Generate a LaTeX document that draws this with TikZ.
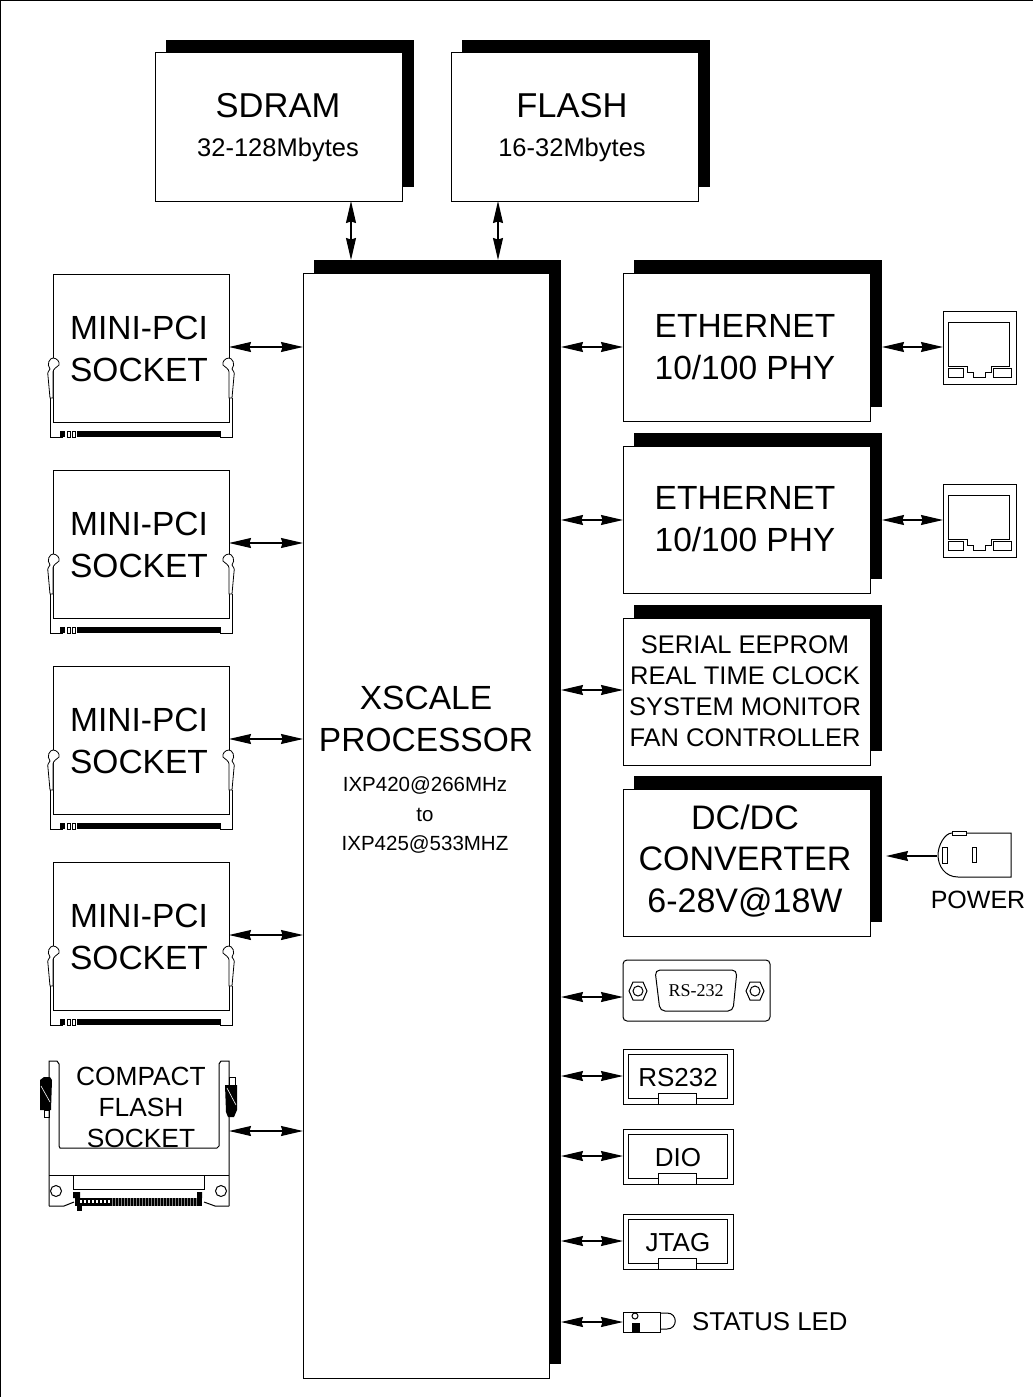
\documentclass[tikz,border=0pt]{standalone}
\usepackage{fontspec}
\setmainfont{Liberation Sans}
\newfontfamily\serifdb{Liberation Serif}
\usetikzlibrary{arrows.meta,positioning}
\tikzset{
  x=1pt,y=-1pt,
  ln/.style={draw=black,line width=1pt},
  thinln/.style={draw=black,line width=0.8pt},
  lbl/.style={align=center,inner sep=0pt,text=black},
  blockbox/.style={draw=black,line width=1pt,fill=white,anchor=north west,inner sep=0pt,outer sep=0pt},
  dbl/.style={line width=1.2pt,{Stealth[length=22pt,width=10pt,inset=1.5pt]}-{Stealth[length=22pt,width=10pt,inset=1.5pt]}},
  sgl/.style={line width=1.2pt,-{Stealth[length=22pt,width=10pt,inset=1.5pt]}},
}
% drop-shadow block: #1 name, #2 left, #3 top, #4 right, #5 bottom
\newcommand{\shadowblock}[5]{%
  \fill[black] (#2+11,#3-13) rectangle (#4+12,#5-14);
  \pgfmathsetmacro{\bw}{#4-#2}\pgfmathsetmacro{\bh}{#5-#3}
  \node[blockbox,minimum width=\bw pt,minimum height=\bh pt] (#1) at (#2,#3) {};
}
\newcommand{\minipci}[2]{% #1 name, #2 top y
  \begin{scope}[yshift=-#2pt]
  \node[blockbox,minimum width=176pt,minimum height=148pt] (#1) at (53,0) {};
  % left latch
  \draw[thinln,fill=white] (50,124) -- (48,102) .. controls (47,98) and (49,97) .. (50,95)
     .. controls (46,90) and (50,84) .. (53,84) .. controls (57,84) and (60,88) .. (59,91)
     .. controls (57,93) and (53,95) .. (53,98) -- (53,124) -- cycle;
  % right latch
  \draw[thinln,fill=white] (232,124) -- (234,102) .. controls (235,98) and (233,97) .. (232,95)
     .. controls (236,90) and (232,84) .. (229,84) .. controls (225,84) and (222,88) .. (223,91)
     .. controls (225,93) and (229,95) .. (229,98) -- (229,124) -- cycle;
  \draw[ln] (62,157) -- (62,163) -- (50,163) -- (50,124) (220,157) -- (220,163) -- (232,163) -- (232,124);
  \fill[black] (60,157) rectangle (65,163);
  \draw[thinln] (67,157) rectangle (70,163) (72,157) rectangle (75,163);
  \fill[black] (77,157) rectangle (221,163);
  \end{scope}
}
\newcommand{\rjport}[2]{% #1 name, #2 top y
  \begin{scope}[yshift=-#2pt]
  \node[blockbox,minimum width=73pt,minimum height=73pt] (#1) at (943,0) {};
  \draw[ln] (948,11) -- (1009,11) -- (1009,55) -- (991,55) -- (991,61) -- (985,61) -- (985,66) -- (973,66) -- (973,61) -- (967,61) -- (967,55) -- (948,55) -- cycle;
  \draw[ln] (948,57) rectangle (963,66) (993,57) rectangle (1011,66);
  \end{scope}
}
\newcommand{\hdr}[3]{% #1 name, #2 top y, #3 text
  \begin{scope}[yshift=-#2pt]
  \node[blockbox,minimum width=110pt,minimum height=55pt] (#1) at (623,0) {};
  \draw[ln] (628,5) rectangle (727,49);
  \draw[ln,fill=white] (658,44) rectangle (696,55);
  \node[lbl,font=\fontsize{26}{26}\selectfont] at (678,29) {#3};
  \end{scope}
}
\newcommand{\bigtxt}{\fontsize{33.5}{41.5}\selectfont}
\begin{document}
\begin{tikzpicture}
\useasboundingbox (0,0) rectangle (1033,1397);
\draw[line width=1pt] (0.5,1397) -- (0.5,0.5) -- (1033,0.5);

\shadowblock{sdram}{155}{53}{402}{201}
\node[lbl,font=\fontsize{34.5}{34}\selectfont] (tsdram) at (278,106) {SDRAM};
\node[lbl,font=\fontsize{25.5}{26}\selectfont] (tsdram2) at (278,150) {32-128Mbytes};
\shadowblock{flash}{451}{53}{698}{201}
\node[lbl,font=\fontsize{34.5}{34}\selectfont] (tflash) at (572,106) {FLASH};
\node[lbl,font=\fontsize{25.5}{26}\selectfont] (tflash2) at (572,150) {16-32Mbytes};

\shadowblock{cpu}{303}{273}{549}{1378}
\node[lbl,font=\bigtxt] (tcpu) at (426,719) {XSCALE\\PROCESSOR};
\node[lbl,font=\fontsize{20.5}{29.5}\selectfont] (tcpu2) at (425,815) {IXP420@266MHz\\to\\IXP425@533MHZ};

\shadowblock{eth1}{623}{273}{870}{421}
\node[lbl,font=\bigtxt] at (745,347) {ETHERNET\\10/100 PHY};
\shadowblock{eth2}{623}{446}{870}{593}
\node[lbl,font=\bigtxt] at (745,519) {ETHERNET\\10/100 PHY};
\shadowblock{ser}{623}{618}{870}{765}
\node[lbl,font=\fontsize{25.5}{31}\selectfont] at (745,691) {SERIAL EEPROM\\REAL TIME CLOCK\\SYSTEM MONITOR\\FAN CONTROLLER};
\shadowblock{dc}{623}{789}{870}{936}
\node[lbl,font=\fontsize{34}{41.5}\selectfont] at (745,861) {DC/DC\\CONVERTER\\6-28V@18W};

% Mini-PCI sockets
\minipci{mp1}{274}
\node[lbl,font=\bigtxt] at (139,349) {MINI-PCI\\SOCKET};
\minipci{mp2}{470}
\node[lbl,font=\bigtxt] at (139,545) {MINI-PCI\\SOCKET};
\minipci{mp3}{666}
\node[lbl,font=\bigtxt] at (139,741) {MINI-PCI\\SOCKET};
\minipci{mp4}{862}
\node[lbl,font=\bigtxt] at (139,937) {MINI-PCI\\SOCKET};

% Compact flash
\draw[ln] (49,1206) -- (49,1061) -- (57,1061) -- (59,1064) -- (59,1146) -- (60,1148) -- (217,1148) -- (219,1146) -- (219,1064) -- (221,1061) -- (229,1061) -- (229,1206);
\draw[ln] (49,1175) -- (229,1175);
\draw[ln] (73,1175) -- (73,1190) (204,1175) -- (204,1190) (73,1189) -- (204,1189);
\draw[ln] (49,1206) -- (64,1206) -- (74,1202) (229,1206) -- (215,1206) -- (204,1202);
\draw[ln] (56,1191) circle (5.5) (221,1191) circle (5.5);
\fill[black] (75,1198) rectangle (202,1206);
\fill[black] (73,1192) rectangle (80,1198) (197,1192) rectangle (202,1198);
\fill[black] (77,1206) rectangle (82,1211);
\foreach \px in {80,84,...,108}{\fill[white] (\px,1200) rectangle (\px+2,1203);}
\foreach \px in {112,115,...,198}{\fill[gray] (\px,1198) rectangle (\px+0.8,1206);}
% latches
\draw[ln] (44,1110) rectangle (49,1117);
\fill[black] (40,1080) -- (44,1077) -- (50,1077) -- (52,1080) -- (51,1110) -- (40,1110) -- cycle;
\draw[white,line width=0.6pt] (41,1086) -- (50,1102);
\draw[ln] (229,1077) rectangle (235,1085);
\fill[black] (225,1085) -- (237,1085) -- (237,1110) -- (234,1117) -- (228,1117) -- (226,1112) -- cycle;
\draw[white,line width=0.6pt] (227,1088) -- (236,1105);
\node[lbl,font=\fontsize{26.3}{31}\selectfont] (tcf) at (141,1107) {COMPACT\\FLASH\\SOCKET};
\coordinate (cf) at (229,1131);

% RJ45
\rjport{rj1}{311}
\rjport{rj2}{484}

% Power
\draw[ln] (966,833) -- (1011,833) -- (1011,877) -- (958,877) .. controls (945,877) and (938,866) .. (938,855) .. controls (938,845) and (945,833) .. (952,833);
\draw[ln,fill=white] (952,831) rectangle (966,835);
\draw[ln] (942,847) rectangle (947,863) (972,847) rectangle (976,862);
\coordinate (pw) at (937,856);
\coordinate (dcE) at (886,856);
\node[lbl,font=\fontsize{25}{25}\selectfont] at (978,900) {POWER};

% DB9
\node[blockbox,rounded corners=4pt,minimum width=147pt,minimum height=61pt] (db) at (623,960) {};
\draw[ln,rounded corners=5pt] (655,970) -- (737,970) -- (733,1011) -- (660,1011) -- cycle;
\node[lbl,font=\serifdb\fontsize{18}{18}\selectfont] at (696,991) {RS-232};
\foreach \cx in {638,755}{
  \draw[ln] (\cx,991) circle (5);
  \draw[ln] (\cx-9,991) -- (\cx-5,982) -- (\cx+5,982) -- (\cx+9,991) -- (\cx+5,1000) -- (\cx-5,1000) -- cycle;
}

% Headers
\hdr{h1}{1049}{RS232}
\hdr{h2}{1129}{DIO}
\hdr{h3}{1214}{JTAG}

% LED
\node[blockbox,minimum width=37pt,minimum height=20pt] (led) at (623,1312) {};
\draw[ln] (660,1313) -- (667,1313) .. controls (678,1313) and (678,1329) .. (667,1329) -- (660,1329);
\draw[ln] (635,1316) circle (3);
\fill[black] (632,1323) rectangle (640,1332);
\node[lbl,font=\fontsize{25.8}{26}\selectfont,anchor=west] (tled) at (692,1322) {STATUS LED};

% connector end points on the processor block and PHY blocks
\coordinate (cpuN1) at (351,260);
\coordinate (cpuN2) at (498,260);
\foreach \nm/\yy in {W1/347,W2/543,W3/739,W4/935,W5/1131}{\coordinate (cpu\nm) at (303,\yy);}
\foreach \nm/\yy in {E1/347,E2/520,E3/690,E4/997,E5/1076,E6/1156,E7/1241,E8/1322}{\coordinate (cpu\nm) at (561,\yy);}
\coordinate (eth1E) at (882,347);
\coordinate (eth2E) at (882,520);
% connectors
\draw[dbl] (sdram.south -| cpuN1) -- (cpuN1);
\draw[dbl] (flash.south -| cpuN2) -- (cpuN2);
\draw[dbl] (mp1.east |- cpuW1) -- (cpuW1);
\draw[dbl] (mp2.east |- cpuW2) -- (cpuW2);
\draw[dbl] (mp3.east |- cpuW3) -- (cpuW3);
\draw[dbl] (mp4.east |- cpuW4) -- (cpuW4);
\draw[dbl] (cf) -- (cpuW5);
\draw[dbl] (cpuE1) -- (eth1.west |- cpuE1);
\draw[dbl] (cpuE2) -- (eth2.west |- cpuE2);
\draw[dbl] (cpuE3) -- (ser.west |- cpuE3);
\draw[dbl] (eth1E) -- (rj1.west |- eth1E);
\draw[dbl] (eth2E) -- (rj2.west |- eth2E);
\draw[sgl] (pw) -- (dcE);
\draw[dbl] (cpuE4) -- (db.west |- cpuE4);
\draw[dbl] (cpuE5) -- (h1.west |- cpuE5);
\draw[dbl] (cpuE6) -- (h2.west |- cpuE6);
\draw[dbl] (cpuE7) -- (h3.west |- cpuE7);
\draw[dbl] (cpuE8) -- (led.west |- cpuE8);
\end{tikzpicture}
\end{document}
